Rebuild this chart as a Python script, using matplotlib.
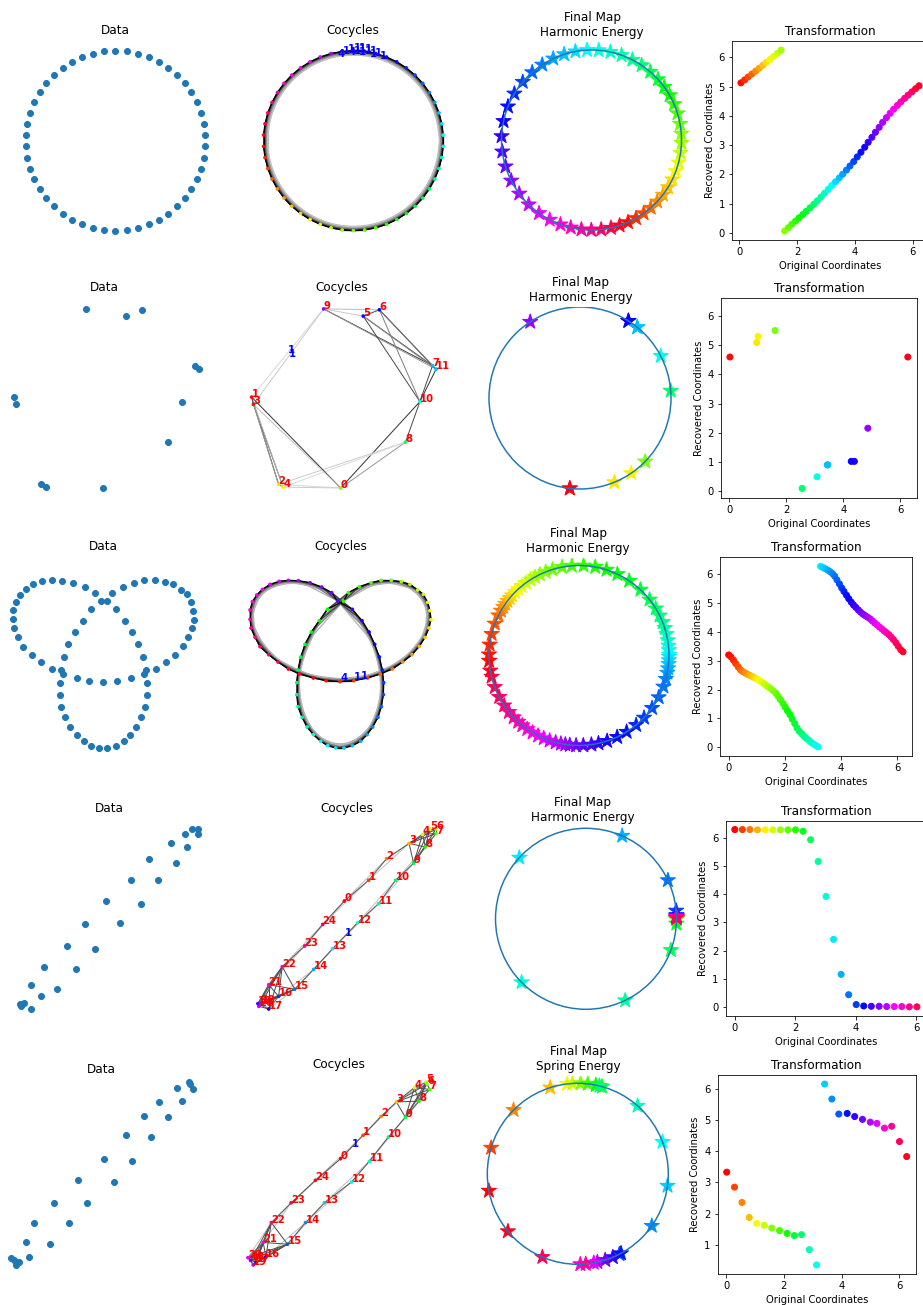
import numpy as np
import matplotlib.pyplot as plt
from matplotlib.patches import Circle
from matplotlib.collections import LineCollection

# ---------------- row 1: circle, 50 points ----------------
row1_angle_deg = [183.6, 190.8, 198.0, 205.2, 212.4, 219.6, 226.8, 234.0, 241.2, 248.4,
                  255.6, 262.8, 270.0, 277.2, 284.4, 291.6, 298.8, 306.0, 313.2, 320.4,
                  327.6, 334.8, 342.0, 349.2, 356.4, 3.6, 10.8, 18.0, 25.2, 32.4,
                  39.6, 46.8, 54.0, 61.2, 68.4, 75.6, 82.8, 90.0, 97.2, 104.4,
                  111.6, 118.8, 126.0, 133.2, 140.4, 147.6, 154.8, 162.0, 169.2, 176.4]
row1_orig = [0.06, 0.19, 0.31, 0.44, 0.57, 0.69, 0.82, 0.94, 1.07, 1.19,
             1.32, 1.45, 1.57, 1.70, 1.82, 1.95, 2.07, 2.20, 2.32, 2.45,
             2.58, 2.70, 2.83, 2.95, 3.08, 3.20, 3.33, 3.46, 3.58, 3.71,
             3.83, 3.96, 4.08, 4.21, 4.34, 4.46, 4.59, 4.71, 4.84, 4.96,
             5.09, 5.22, 5.34, 5.47, 5.59, 5.72, 5.84, 5.97, 6.10, 6.22]
row1_recovered = [5.13, 5.23, 5.33, 5.43, 5.53, 5.63, 5.73, 5.83, 5.93, 6.03,
                  6.14, 6.25, 0.07, 0.18, 0.30, 0.41, 0.52, 0.63, 0.74, 0.86,
                  0.98, 1.10, 1.23, 1.36, 1.49, 1.62, 1.75, 1.88, 2.01, 2.15,
                  2.29, 2.44, 2.60, 2.76, 2.93, 3.10, 3.27, 3.44, 3.61, 3.78,
                  3.94, 4.09, 4.23, 4.36, 4.48, 4.60, 4.71, 4.82, 4.93, 5.03]

# ---------------- row 2: 12 noisy points ----------------
row2_x = [-0.02, -1.01, -0.71, -0.99, -0.66, 0.23, 0.41, 1.00, 0.70, -0.21, 0.86, 1.04]
row2_y = [-1.00, 0.01, -0.96, -0.07, -0.99, 0.91, 0.98, 0.36, -0.49, 0.99, -0.04, 0.32]
row2_orig = [1.61, 0.03, 0.97, 6.26, 1.02, 4.39, 4.28, 3.46, 2.56, 4.86, 3.08, 3.44]
row2_recovered = [5.51, 4.60, 5.10, 4.60, 5.31, 1.01, 1.01, 0.89, 0.08, 2.15, 0.48, 0.89]
row2_edges = [(9, 1), (9, 3), (9, 5), (9, 6), (9, 7), (9, 11), (5, 6), (5, 7), (5, 11),
              (5, 10), (6, 7), (6, 11), (6, 10), (7, 10), (11, 10), (10, 8), (10, 0),
              (8, 0), (8, 2), (8, 4), (1, 0), (3, 0), (1, 2), (3, 4), (1, 4), (3, 2),
              (0, 2), (0, 4), (1, 3), (2, 4), (7, 11)]
row2_gray = [0.85, 0.8, 0.8, 0.75, 0.25, 0.6, 0.3, 0.3, 0.55, 0.3, 0.25, 0.45, 0.5,
             0.3, 0.2, 0.3, 0.2, 0.6, 0.8, 0.85, 0.2, 0.75, 0.3, 0.35, 0.7, 0.6,
             0.85, 0.8, 0.3, 0.5, 0.4]
row2_cocycle = [(9, 1), (9, 3)]

# ---------------- row 3: trefoil, 75 points ----------------
row3_x = [2.30, 2.68, 3.10, 3.52, 3.93, 4.31, 4.67, 4.98, 5.26, 5.48,
          5.65, 5.77, 5.83, 5.80, 5.73, 5.60, 5.43, 5.20, 4.94, 4.64,
          4.33, 4.03, 3.68, 3.35, 3.20, 2.72, 2.48, 2.24, 2.05, 1.92,
          1.84, 1.80, 1.80, 1.84, 1.96, 2.11, 2.30, 2.52, 2.73, 2.97,
          3.22, 3.47, 3.72, 3.91, 4.08, 4.24, 4.34, 4.40, 4.41, 4.37,
          4.28, 4.14, 3.97, 3.76, 3.47, 3.03, 2.85, 2.55, 2.20, 1.85,
          1.55, 1.27, 1.00, 0.77, 0.60, 0.47, 0.40, 0.40, 0.43, 0.55,
          0.70, 0.96, 1.24, 1.55, 1.88]
row3_y = [2.56, 2.48, 2.45, 2.48, 2.56, 2.68, 2.83, 3.04, 3.26, 3.51,
          3.78, 4.06, 4.31, 4.58, 4.83, 5.07, 5.20, 5.37, 5.45, 5.49,
          5.49, 5.42, 5.30, 5.12, 4.87, 4.62, 4.28, 3.94, 3.57, 3.19,
          2.80, 2.42, 2.06, 1.70, 1.38, 1.09, 0.86, 0.66, 0.53, 0.46,
          0.46, 0.53, 0.66, 0.86, 1.09, 1.38, 1.70, 2.06, 2.42, 2.80,
          3.19, 3.57, 3.94, 4.28, 4.62, 4.87, 5.12, 5.29, 5.42, 5.48,
          5.49, 5.46, 5.37, 5.22, 5.05, 4.85, 4.60, 4.32, 4.06, 3.78,
          3.50, 3.26, 3.04, 2.83, 2.68]
row3_orig = [0.00, 0.08, 0.17, 0.25, 0.34, 0.42, 0.50, 0.59, 0.67, 0.75,
             0.84, 0.92, 1.01, 1.09, 1.17, 1.26, 1.34, 1.42, 1.51, 1.59,
             1.68, 1.76, 1.84, 1.93, 2.01, 2.09, 2.18, 2.26, 2.35, 2.43,
             2.51, 2.60, 2.68, 2.76, 2.85, 2.93, 3.02, 3.10, 3.18, 3.27,
             3.35, 3.43, 3.52, 3.60, 3.69, 3.77, 3.85, 3.94, 4.02, 4.10,
             4.19, 4.27, 4.36, 4.44, 4.52, 4.61, 4.69, 4.78, 4.86, 4.94,
             5.03, 5.11, 5.19, 5.28, 5.36, 5.45, 5.53, 5.61, 5.70, 5.78,
             5.86, 5.95, 6.03, 6.12, 6.20]
row3_recovered = [3.20, 3.13, 3.02, 2.90, 2.78, 2.68, 2.62, 2.57, 2.53, 2.49,
                  2.45, 2.41, 2.36, 2.31, 2.26, 2.20, 2.14, 2.08, 2.02, 1.95,
                  1.87, 1.76, 1.65, 1.52, 1.39, 1.26, 1.13, 0.98, 0.82, 0.67,
                  0.55, 0.46, 0.38, 0.31, 0.24, 0.17, 0.11, 0.06, 0.01, 6.27,
                  6.23, 6.19, 6.14, 6.09, 6.02, 5.93, 5.80, 5.66, 5.52, 5.40,
                  5.27, 5.15, 5.03, 4.93, 4.85, 4.76, 4.68, 4.61, 4.56, 4.51,
                  4.45, 4.38, 4.31, 4.24, 4.17, 4.10, 4.03, 3.97, 3.90, 3.82,
                  3.73, 3.62, 3.50, 3.38, 3.31]
row3_cocycle = [(1, 3, '4'), (2, 4, '1'), (3, 4, '1')]

# ---------------- row 4: thin loop, 25 points ----------------
row4_x = [-0.03, 0.24, 0.44, 0.69, 0.84, 0.92, 0.99, 0.99, 0.87, 0.74, 0.54, 0.35, 0.12,
          -0.16, -0.37, -0.58, -0.76, -0.87, -0.99, -0.95, -0.98, -0.87, -0.72, -0.47, -0.27]
row4_y = [0.20, 0.43, 0.67, 0.84, 0.94, 1.00, 1.00, 0.95, 0.80, 0.62, 0.43, 0.17, -0.04,
          -0.33, -0.56, -0.78, -0.86, -1.00, -0.94, -0.93, -0.97, -0.73, -0.53, -0.30, -0.06]
row4_orig = [0.00, 0.25, 0.50, 0.75, 1.01, 1.26, 1.51, 1.76, 2.01, 2.26, 2.51, 2.76, 3.02,
             3.27, 3.52, 3.77, 4.02, 4.27, 4.52, 4.78, 5.03, 5.28, 5.53, 5.78, 6.03]
row4_recovered = [6.29, 6.29, 6.29, 6.28, 6.28, 6.28, 6.28, 6.28, 6.28, 6.23, 5.93, 5.16, 3.92,
                  2.40, 1.16, 0.44, 0.09, 0.04, 0.03, 0.03, 0.02, 0.02, 0.02, 0.01, 0.01]
row4_cocycle = [(12, 13, '1')]

# ---------------- row 5: thin loop, 25 points ----------------
row5_x = [0.04, 0.29, 0.49, 0.66, 0.86, 0.99, 1.00, 1.03, 0.91, 0.76, 0.57, 0.36, 0.16,
          -0.14, -0.35, -0.55, -0.79, -0.90, -0.96, -0.93, -0.99, -0.82, -0.73, -0.51, -0.24]
row5_y = [0.17, 0.43, 0.64, 0.80, 0.96, 1.02, 1.00, 0.94, 0.81, 0.63, 0.41, 0.14, -0.09,
          -0.32, -0.54, -0.78, -0.92, -0.98, -0.96, -1.01, -0.93, -0.76, -0.54, -0.32, -0.07]
row5_orig = [0.02, 0.29, 0.55, 0.80, 1.06, 1.32, 1.58, 1.85, 2.11, 2.36, 2.61, 2.88, 3.13,
             3.41, 3.66, 3.90, 4.19, 4.45, 4.72, 4.99, 5.22, 5.48, 5.73, 6.00, 6.25]
row5_recovered = [3.33, 2.85, 2.36, 1.88, 1.69, 1.63, 1.54, 1.46, 1.37, 1.30, 1.33, 0.85, 0.36,
                  6.15, 5.67, 5.19, 5.21, 5.11, 5.02, 4.93, 4.89, 4.74, 4.80, 4.31, 3.83]
row5_cocycle = [(0, 1, '1')]

W, H = 923, 1305
fig = plt.figure(figsize=(W / 72, H / 72), dpi=72)


def hsv_colors(orig):
    return plt.cm.hsv(np.asarray(orig) / (2 * np.pi))


def blank_panel(xc, top, cx, cy, s, w=226, h=215):
    # axis-off panel; data origin lands on pixel (cx, cy), s pixels per unit
    left = xc - w / 2
    ax = fig.add_axes([left / W, 1 - (top + h) / H, w / W, h / H])
    ax.set_xlim((left - cx) / s, (left + w - cx) / s)
    ax.set_ylim((cy - top - h) / s, (cy - top) / s)
    ax.axis('off')
    return ax


def chain_edges(n, kmax):
    pairs, ks = [], []
    for k in range(kmax, 0, -1):   # long (light) edges first, short (dark) on top
        for i in range(n):
            pairs.append((i, (i + k) % n))
            ks.append(k)
    return pairs, ks


def loop_edges(n, top_group, bottom_group):
    pairs, grays = [], []
    for i in range(n):
        pairs.append((i, (i + 2) % n))
        grays.append(0.75)
    for grp in (top_group, bottom_group):
        for a in grp:
            for b in grp:
                if a < b and b - a > 2:
                    pairs.append((a, b))
                    grays.append(0.3)
    for i in range(n):
        pairs.append((i, (i + 1) % n))
        grays.append(0.35)
    return pairs, grays


def data_panel(ax, x, y, title='Data'):
    ax.scatter(x, y, s=36, color='C0')
    ax.set_title(title)


def cocycle_panel(ax, x, y, orig, pairs, grays, vertex_labels, cocycle, lw=1.0):
    x = np.asarray(x)
    y = np.asarray(y)
    segs = [[(x[a], y[a]), (x[b], y[b])] for a, b in pairs]
    cols = [str(g) for g in grays]
    ax.add_collection(LineCollection(segs, colors=cols, linewidths=lw, zorder=1))
    ax.scatter(x, y, s=7, c=hsv_colors(orig), zorder=2)
    if vertex_labels:
        for i in range(len(x)):
            ax.text(x[i], y[i], str(i), color='red', fontsize=10, fontweight='bold', zorder=4)
    for a, b, lab in cocycle:
        ax.text((x[a] + x[b]) / 2, (y[a] + y[b]) / 2, lab, color='blue',
                fontsize=10, fontweight='bold', zorder=5)
    ax.set_title('Cocycles')


def map_panel(ax, orig, rec, energy):
    rec = np.asarray(rec)
    ax.scatter(np.cos(rec), np.sin(rec), marker='*', s=250, c=hsv_colors(orig), zorder=2)
    ax.add_patch(Circle((0, 0), 1, fill=False, color='C0', lw=1.5, zorder=3))
    ax.set_title('Final Map\n' + energy)


def transform_panel(l, t, r, b, orig, rec, ylim=None):
    ax = fig.add_axes([l / W, 1 - b / H, (r - l) / W, (b - t) / H])
    ax.scatter(orig, rec, s=36, c=hsv_colors(orig))
    if ylim is not None:
        ax.set_ylim(*ylim)
    ax.set_title('Transformation')
    ax.set_xlabel('Original Coordinates')
    ax.set_ylabel('Recovered Coordinates')
    return ax


# ---------------- row 1 ----------------
r1x = np.cos(np.radians(row1_angle_deg))
r1y = np.sin(np.radians(row1_angle_deg))
p1, k1 = chain_edges(50, 5)
g1 = [[0.0, 0.2, 0.4, 0.6, 0.75][k - 1] for k in k1]
c1 = [(a, b, '4' if (a, b) in [(36, 41), (35, 40)] else '1')
      for a, b in p1 if (a <= 36 < b)]
data_panel(blank_panel(115.5, 40.4, 115.5, 140.7, 90), r1x, r1y)
cocycle_panel(blank_panel(353, 40.4, 353.4, 140.7, 90), r1x, r1y, row1_orig, p1, g1, False, c1, lw=1.3)
map_panel(blank_panel(592, 42.4, 591.5, 140, 90), row1_orig, row1_recovered, 'Harmonic Energy')
transform_panel(732, 41, 928, 240, row1_orig, row1_recovered)

# ---------------- row 2 ----------------
c2 = [(a, b, '1') for a, b in row2_cocycle]
data_panel(blank_panel(104, 297.4, 105, 398, 90), row2_x, row2_y)
cocycle_panel(blank_panel(342, 297.4, 342.5, 398, 90), row2_x, row2_y, row2_orig,
              row2_edges, row2_gray, True, c2)
map_panel(blank_panel(581, 307.4, 580, 398, 91), row2_orig, row2_recovered, 'Harmonic Energy')
transform_panel(721, 298.3, 916.7, 497.7, row2_orig, row2_recovered, ylim=(-0.24, 6.62))

# ---------------- row 3 ----------------
p3, k3 = chain_edges(75, 4)
g3 = [[0.0, 0.25, 0.5, 0.7][k - 1] for k in k3]
data_panel(blank_panel(103, 556.4, 0, 763.33, 33.33), row3_x, row3_y)
cocycle_panel(blank_panel(341, 556.4, 236.7, 763.33, 33.33), row3_x, row3_y, row3_orig,
              p3, g3, False, row3_cocycle, lw=1.3)
map_panel(blank_panel(578, 558.4, 579, 655.5, 90), row3_orig, row3_recovered, 'Harmonic Energy')
transform_panel(720, 557.3, 911.7, 756, row3_orig, row3_recovered)

# ---------------- row 4 ----------------
p4, g4 = loop_edges(25, [3, 4, 5, 6, 7, 8, 9], [15, 16, 17, 18, 19, 20, 21, 22])
data_panel(blank_panel(109, 818.4, 109, 919, 90), row4_x, row4_y)
cocycle_panel(blank_panel(347, 818.4, 347, 919, 90), row4_x, row4_y, row4_orig,
              p4, g4, True, row4_cocycle)
map_panel(blank_panel(583, 827.4, 586, 918.8, 90.5), row4_orig, row4_recovered, 'Harmonic Energy')
transform_panel(725.7, 820.7, 926, 1015.7, row4_orig, row4_recovered)

# ---------------- row 5 ----------------
p5, g5 = loop_edges(25, [3, 4, 5, 6, 7, 8, 9], [15, 16, 17, 18, 19, 20, 21, 22])
data_panel(blank_panel(101, 1079.4, 100, 1174, 90), row5_x, row5_y)
cocycle_panel(blank_panel(339, 1074.4, 337, 1174, 90), row5_x, row5_y, row5_orig,
              p5, g5, True, row5_cocycle)
map_panel(blank_panel(578, 1076.4, 577.8, 1173.8, 90.5), row5_orig, row5_recovered, 'Spring Energy')
transform_panel(717.7, 1075, 915.7, 1274, row5_orig, row5_recovered)

fig.savefig('out.png', dpi=72)
